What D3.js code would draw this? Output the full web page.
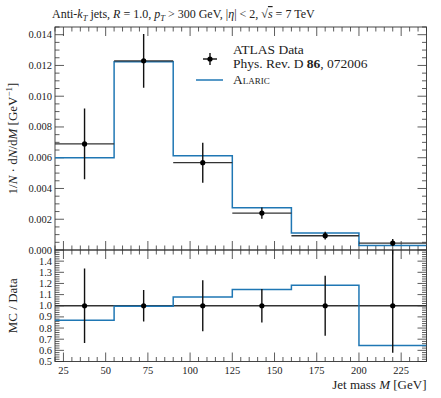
<!DOCTYPE html>
<html><head><meta charset="utf-8">
<script src="https://cdn.jsdelivr.net/npm/d3@7"></script>
<style>
html,body{margin:0;padding:0;background:#fff;}
text{font-family:"Liberation Serif","DejaVu Serif",serif;fill:#222;}
</style></head>
<body><svg id="c" width="441" height="398"></svg>
<script>
// ---- data ----
const binEdges = [20, 55, 90, 125, 160, 200, 240];
const dataValues = [0.0069, 0.0123, 0.00568, 0.0024, 0.00093, 0.00045];
const dataErrUp = [0.0023, 0.00175, 0.0013, 0.00036, 0.00025, 0.00027];
const dataErrDown = [0.0023, 0.00175, 0.0013, 0.00036, 0.00025, 0.00019];
const mcValues = [0.0060, 0.01224, 0.00613, 0.00275, 0.0011, 0.00029];
const mainTicks = [0, 0.002, 0.004, 0.006, 0.008, 0.010, 0.012, 0.014];
const ratioTicks = [0.5, 0.6, 0.7, 0.8, 0.9, 1.0, 1.1, 1.2, 1.3, 1.4];
const xTicks = [25, 50, 75, 100, 125, 150, 175, 200, 225];

const svg = d3.select("#c");
const L = 55, R = 426.5, T = 27, MB = 250, RB = 361.5;
const x = d3.scaleLinear().domain([20, 240]).range([L, R]);
const y = d3.scaleLinear().domain([0, 0.0145]).range([MB, T]);
const yr = d3.scaleLinear().domain([0.5, 1.5]).range([RB, MB]);
const blue = "#1f77b4", dark = "#333";

const bins = dataValues.map((v, i) => ({
  lo: binEdges[i], hi: binEdges[i + 1], c: (binEdges[i] + binEdges[i + 1]) / 2,
  v, up: dataErrUp[i], dn: dataErrDown[i], mc: mcValues[i],
  r: mcValues[i] / v, rup: dataErrUp[i] / v, rdn: dataErrDown[i] / v
}));

// clip paths
const defs = svg.append("defs");
defs.append("clipPath").attr("id", "cm").append("rect").attr("x", L).attr("y", T).attr("width", R - L).attr("height", MB - T);
defs.append("clipPath").attr("id", "cr").append("rect").attr("x", L).attr("y", MB).attr("width", R - L).attr("height", RB - MB);

function frameTicks(g, ys, top, bottom, yMaj, yMin, showXLabels, yFmt, skipTop) {
  const tk = g.append("g").attr("stroke", dark).attr("stroke-width", 0.8);
  const majL = 9, minL = 4.5;
  const xMin = d3.range(20, 241, 5);
  xMin.forEach(v => {
    const isMaj = v % 25 === 0;
    const len = isMaj ? majL : minL;
    tk.append("line").attr("x1", x(v)).attr("x2", x(v)).attr("y1", bottom).attr("y2", bottom - len);
    tk.append("line").attr("x1", x(v)).attr("x2", x(v)).attr("y1", top).attr("y2", top + len);
  });
  yMin.forEach(v => {
    tk.append("line").attr("x1", L).attr("x2", L + minL).attr("y1", ys(v)).attr("y2", ys(v));
    tk.append("line").attr("x1", R).attr("x2", R - minL).attr("y1", ys(v)).attr("y2", ys(v));
  });
  yMaj.forEach(v => {
    tk.append("line").attr("x1", L).attr("x2", L + majL).attr("y1", ys(v)).attr("y2", ys(v));
    tk.append("line").attr("x1", R).attr("x2", R - majL).attr("y1", ys(v)).attr("y2", ys(v));
  });
  g.append("rect").attr("x", L).attr("y", top).attr("width", R - L).attr("height", bottom - top)
    .attr("fill", "none").attr("stroke", dark).attr("stroke-width", 0.9);
  yMaj.forEach(v => {
    g.append("text").attr("x", L - 3).attr("y", ys(v) + 3.5).attr("text-anchor", "end")
      .attr("font-size", 10.5).text(yFmt(v));
  });
  if (showXLabels) {
    xTicks.forEach(v => {
      g.append("text").attr("x", x(v)).attr("y", bottom + 12).attr("text-anchor", "middle")
        .attr("font-size", 10.5).text(v);
    });
  }
}

// ---- main panel ----
const gm = svg.append("g");
const mainMin = d3.range(0, 0.01451, 0.0005).filter(v => Math.abs(Math.round(v / 0.002) * 0.002 - v) > 1e-7);
frameTicks(gm, y, T, MB, mainTicks, mainMin, false, d3.format(".3f"));

const stepLine = (ys, key) => {
  const pts = [];
  bins.forEach(b => { pts.push([x(b.lo), ys(b[key])]); pts.push([x(b.hi), ys(b[key])]); });
  return d3.line()(pts);
};
const pm = gm.append("g").attr("clip-path", "url(#cm)");
pm.append("path").attr("d", stepLine(y, "mc")).attr("fill", "none").attr("stroke", blue).attr("stroke-width", 1.5);
bins.forEach(b => {
  pm.append("line").attr("x1", x(b.lo)).attr("x2", x(b.hi)).attr("y1", y(b.v)).attr("y2", y(b.v))
    .attr("stroke", dark).attr("stroke-width", 1.4);
  pm.append("line").attr("x1", x(b.c)).attr("x2", x(b.c)).attr("y1", y(b.v + b.up)).attr("y2", y(b.v - b.dn))
    .attr("stroke", "#111").attr("stroke-width", 1.4);
  pm.append("circle").attr("cx", x(b.c)).attr("cy", y(b.v)).attr("r", 2.6).attr("fill", "#000");
});

// ---- ratio panel ----
const gr = svg.append("g");
const ratioMin = d3.range(0.5, 1.5001, 0.02).filter(v => Math.abs(Math.round(v * 10) / 10 - v) > 1e-6);
frameTicks(gr, yr, MB, RB, ratioTicks, ratioMin, true, d3.format(".1f"));
const pr = gr.append("g").attr("clip-path", "url(#cr)");
pr.append("line").attr("x1", L).attr("x2", R).attr("y1", yr(1)).attr("y2", yr(1)).attr("stroke", dark).attr("stroke-width", 1.4);
pr.append("path").attr("d", stepLine(yr, "r")).attr("fill", "none").attr("stroke", blue).attr("stroke-width", 1.5);
bins.forEach(b => {
  pr.append("line").attr("x1", x(b.c)).attr("x2", x(b.c)).attr("y1", yr(1 + b.rup)).attr("y2", yr(1 - b.rdn))
    .attr("stroke", "#111").attr("stroke-width", 1.4);
  pr.append("circle").attr("cx", x(b.c)).attr("cy", yr(1)).attr("r", 2.6).attr("fill", "#000");
});

// ---- labels ----
const title = svg.append("text").attr("x", 52).attr("y", 18).attr("font-size", 12);
title.append("tspan").text("Anti-");
title.append("tspan").attr("font-style", "italic").text("k");
title.append("tspan").attr("font-style", "italic").attr("font-size", 8.5).attr("dy", 2.5).text("T");
title.append("tspan").attr("dy", -2.5).text(" jets, ");
title.append("tspan").attr("font-style", "italic").text("R");
title.append("tspan").text(" = 1.0, ");
title.append("tspan").attr("font-style", "italic").text("p");
title.append("tspan").attr("font-style", "italic").attr("font-size", 8.5).attr("dy", 2.5).text("T");
title.append("tspan").attr("dy", -2.5).text(" > 300 GeV, |");
title.append("tspan").attr("font-style", "italic").text("η");
title.append("tspan").text("| < 2, √");
title.append("tspan").attr("font-style", "italic").attr("text-decoration", "overline").text("s");
title.append("tspan").text(" = 7 TeV");

const yl = svg.append("text").attr("transform", `translate(17,${(T + MB) / 2}) rotate(-90)`)
  .attr("text-anchor", "middle").attr("font-size", 13);
yl.append("tspan").text("1/");
yl.append("tspan").attr("font-style", "italic").text("N");
yl.append("tspan").text(" · d");
yl.append("tspan").attr("font-style", "italic").text("N");
yl.append("tspan").text("/d");
yl.append("tspan").attr("font-style", "italic").text("M");
yl.append("tspan").text(" [GeV");
yl.append("tspan").attr("font-size", 9).attr("dy", -5).text("−1");
yl.append("tspan").attr("dy", 5).text("]");

svg.append("text").attr("transform", `translate(17,${(MB + RB) / 2}) rotate(-90)`)
  .attr("text-anchor", "middle").attr("font-size", 13).text("MC / Data");

const xl = svg.append("text").attr("x", R).attr("y", 389).attr("text-anchor", "end").attr("font-size", 13);
xl.append("tspan").text("Jet mass ");
xl.append("tspan").attr("font-style", "italic").text("M");
xl.append("tspan").text(" [GeV]");

// ---- legend ----
const lg = svg.append("g");
lg.append("line").attr("x1", 203).attr("x2", 217).attr("y1", 59).attr("y2", 59).attr("stroke", "#111").attr("stroke-width", 1.4);
lg.append("line").attr("x1", 210).attr("x2", 210).attr("y1", 53).attr("y2", 65).attr("stroke", "#111").attr("stroke-width", 1.4);
lg.append("circle").attr("cx", 210).attr("cy", 59).attr("r", 2.6).attr("fill", "#000");
lg.append("line").attr("x1", 196).attr("x2", 223).attr("y1", 80).attr("y2", 80).attr("stroke", blue).attr("stroke-width", 1.5);
lg.append("text").attr("x", 233).attr("y", 54).attr("font-size", 13.5).text("ATLAS Data");
const l2 = lg.append("text").attr("x", 233).attr("y", 68).attr("font-size", 13.5);
l2.append("tspan").text("Phys. Rev. D ");
l2.append("tspan").attr("font-weight", "bold").text("86");
l2.append("tspan").text(", 072006");
lg.append("text").attr("x", 233).attr("y", 84).attr("font-size", 13.5).attr("font-variant", "small-caps").text("Alaric");
</script></body></html>
